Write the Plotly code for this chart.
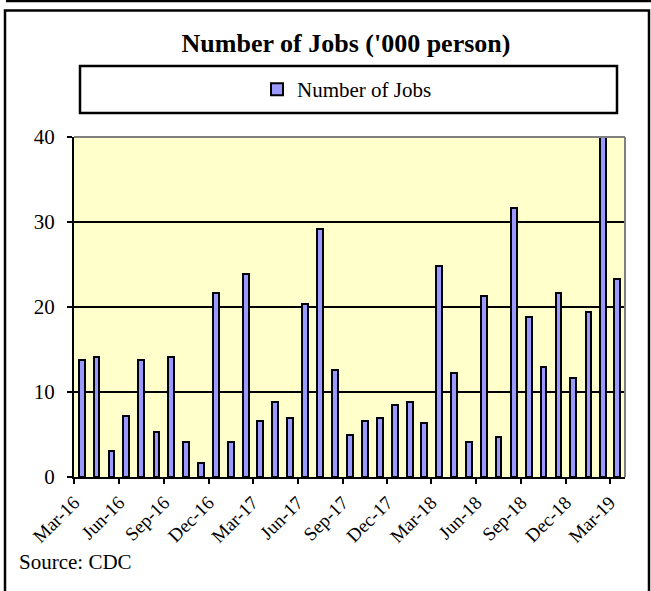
import plotly.graph_objects as go

# Monthly data, Mar-16 .. Mar-19
months = [
    "2016-03", "2016-04", "2016-05", "2016-06", "2016-07", "2016-08",
    "2016-09", "2016-10", "2016-11", "2016-12", "2017-01", "2017-02",
    "2017-03", "2017-04", "2017-05", "2017-06", "2017-07", "2017-08",
    "2017-09", "2017-10", "2017-11", "2017-12", "2018-01", "2018-02",
    "2018-03", "2018-04", "2018-05", "2018-06", "2018-07", "2018-08",
    "2018-09", "2018-10", "2018-11", "2018-12", "2019-01", "2019-02",
    "2019-03",
]
jobs = [
    13.8, 14.1, 3.1, 7.2, 13.8, 5.3, 14.1, 4.1, 1.6, 21.6, 4.1, 23.9,
    6.6, 8.8, 6.9, 20.4, 29.2, 12.6, 5.0, 6.6, 6.9, 8.5, 8.8, 6.3,
    24.8, 12.2, 4.1, 21.3, 4.7, 31.7, 18.8, 12.9, 21.6, 11.6, 19.4, 42.0,
    23.3,
]

FONT = "Liberation Serif"

# plot area in pixels: x 74..625, y 137..477
L, R, T, B = 74, 26, 137, 114
W, H = 651, 591
PW, PH = W - L - R, H - T - B


def px(x):
    return (x - L) / PW


def py(y):
    return (T + PH - y) / PH


fig = go.Figure()

fig.add_trace(go.Bar(
    x=months,
    y=jobs,
    name="Number of Jobs",
    xperiod="M1",
    xperiodalignment="middle",
    width=12 * 86400000,
    marker=dict(color="#9999FF", line=dict(color="black", width=2)),
))

fig.update_layout(
    width=W,
    height=H,
    margin=dict(l=L, r=R, t=T, b=B),
    paper_bgcolor="white",
    plot_bgcolor="#FFFFCC",
    font=dict(family=FONT, color="black"),
    title=dict(
        text="<b>Number of Jobs ('000 person)</b>",
        x=346 / W, y=1 - 43 / H,
        xanchor="center", yanchor="middle",
        font=dict(size=26, family=FONT, color="black"),
    ),
    showlegend=True,
    legend=dict(
        x=px(347), y=py(89.5),
        xanchor="center", yanchor="middle",
        orientation="h",
        bgcolor="rgba(0,0,0,0)",
        itemwidth=30,
        font=dict(size=21, family=FONT, color="black"),
    ),
    bargap=0,
)

fig.update_xaxes(
    type="date",
    range=["2016-03-01", "2019-04-01"],
    tick0="2016-03-01",
    dtick="M3",
    tickformat="%b-%y",
    tickangle=-45,
    ticks="outside",
    ticklen=5,
    tickwidth=2,
    tickcolor="black",
    showline=True,
    linecolor="black",
    linewidth=2,
    showgrid=False,
    tickfont=dict(size=19, family=FONT, color="black"),
)

fig.update_yaxes(
    range=[0, 40],
    dtick=10,
    ticks="outside",
    ticklen=5,
    tickwidth=2,
    tickcolor="black",
    ticklabelstandoff=8,
    showline=True,
    linecolor="black",
    linewidth=2,
    showgrid=True,
    gridcolor="black",
    gridwidth=2,
    zeroline=False,
    tickfont=dict(size=21, family=FONT, color="black"),
)

# grey top/right edges of the plot area
fig.add_shape(type="line", xref="paper", yref="paper", x0=0, x1=1, y0=1, y1=1,
              line=dict(color="#808080", width=2), layer="above")
fig.add_shape(type="line", xref="paper", yref="paper", x0=1, x1=1, y0=0, y1=1,
              line=dict(color="#808080", width=2), layer="above")

# legend box
fig.add_shape(type="rect", xref="paper", yref="paper",
              x0=px(80), x1=px(617), y0=py(113), y1=py(66),
              line=dict(color="black", width=2.5))

# outer chart frame and the edge of the box above it
fig.add_shape(type="rect", xref="paper", yref="paper",
              x0=px(5), x1=px(649), y0=py(610), y1=py(10.5),
              line=dict(color="black", width=2.5))
fig.add_shape(type="line", xref="paper", yref="paper",
              x0=px(6), x1=px(660), y0=py(1), y1=py(1),
              line=dict(color="black", width=2.5))

fig.add_annotation(
    text="Source: CDC",
    xref="paper", yref="paper",
    x=px(17), y=py(562),
    xanchor="left", yanchor="middle",
    showarrow=False,
    font=dict(size=21, family=FONT, color="black"),
)

fig.write_html("out.html", config={"displayModeBar": False},
               post_script="document.body.style.margin='0';")
